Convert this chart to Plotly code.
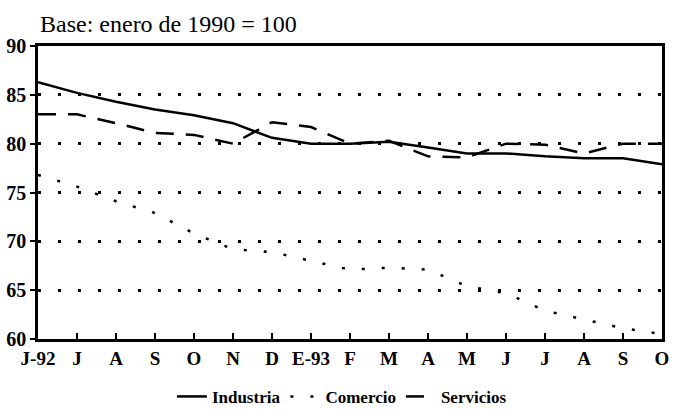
import plotly.graph_objects as go

months = ["J-92", "J", "A", "S", "O", "N", "D", "E-93", "F", "M", "A", "M", "J", "J", "A", "S", "O"]
industria = [86.3, 85.2, 84.3, 83.5, 82.9, 82.1, 80.6, 80.0, 80.0, 80.2, 79.6, 79.0, 79.0, 78.7, 78.5, 78.5, 77.9]
comercio = [76.8, 75.6, 74.1, 72.9, 70.8, 69.2, 68.9, 68.0, 67.1, 67.3, 67.1, 65.4, 64.7, 62.9, 62.0, 61.1, 60.5]
servicios = [83.0, 83.0, 82.1, 81.1, 80.9, 80.0, 82.2, 81.7, 80.0, 80.3, 78.7, 78.6, 80.0, 79.9, 79.0, 80.0, 80.0]
y_ticks = [60, 65, 70, 75, 80, 85, 90]

xs = list(range(len(months)))
serif = "Liberation Serif"

fig = go.Figure()
fig.add_trace(go.Scatter(x=xs, y=industria, mode="lines", name="<b>Industria</b>",
                         line=dict(color="black", width=2.5)))
fig.add_trace(go.Scatter(x=xs, y=comercio, mode="lines", name="<b>Comercio</b>",
                         line=dict(color="black", width=2.5, dash="3px,17px")))
fig.add_trace(go.Scatter(x=xs, y=servicios, mode="lines", name="<b>Servicios</b>",
                         line=dict(color="black", width=2.5, dash="18px,12px")))

fig.update_layout(
    width=677, height=410,
    margin=dict(l=38, r=15, t=46, b=71),
    paper_bgcolor="white", plot_bgcolor="white",
    font=dict(family=serif, color="black"),
    showlegend=True,
    legend=dict(orientation="h", xref="paper", x=0.487, xanchor="center",
                yref="container", y=0.032, yanchor="middle",
                font=dict(family=serif, size=17, color="black"),
                itemwidth=30, tracegroupgap=0, bgcolor="rgba(0,0,0,0)"),
    annotations=[dict(text="Base: enero de 1990 = 100", xref="paper", yref="paper",
                      x=0.0, y=1.0, xanchor="left", yanchor="bottom", yshift=7,
                      showarrow=False, font=dict(family=serif, size=24, color="black"))],
)

fig.update_xaxes(
    range=[0, len(months) - 1], tickvals=xs, ticktext=["<b>%s</b>" % m for m in months],
    showgrid=False, zeroline=False, automargin=False,
    showline=True, linecolor="black", linewidth=2.5, mirror=True,
    ticks="inside", ticklen=6, tickwidth=2, tickcolor="black",
    tickfont=dict(family=serif, size=19, color="black"),
)
fig.update_yaxes(
    range=[60, 90], tickvals=y_ticks, ticktext=["<b>%d</b>" % v for v in y_ticks],
    showgrid=True, gridcolor="black", gridwidth=2.5, griddash="3px,17px",
    zeroline=False, automargin=False,
    showline=True, linecolor="black", linewidth=2.5, mirror=True,
    ticks="outside", ticklen=5, tickwidth=2, tickcolor="black",
    tickfont=dict(family=serif, size=20, color="black"),
)

fig.write_html("out.html", config={"displayModeBar": False})
with open("out.html", encoding="utf-8") as fh:
    html = fh.read()
html = html.replace("<body>", '<body style="margin:0">', 1)
with open("out.html", "w", encoding="utf-8") as fh:
    fh.write(html)
